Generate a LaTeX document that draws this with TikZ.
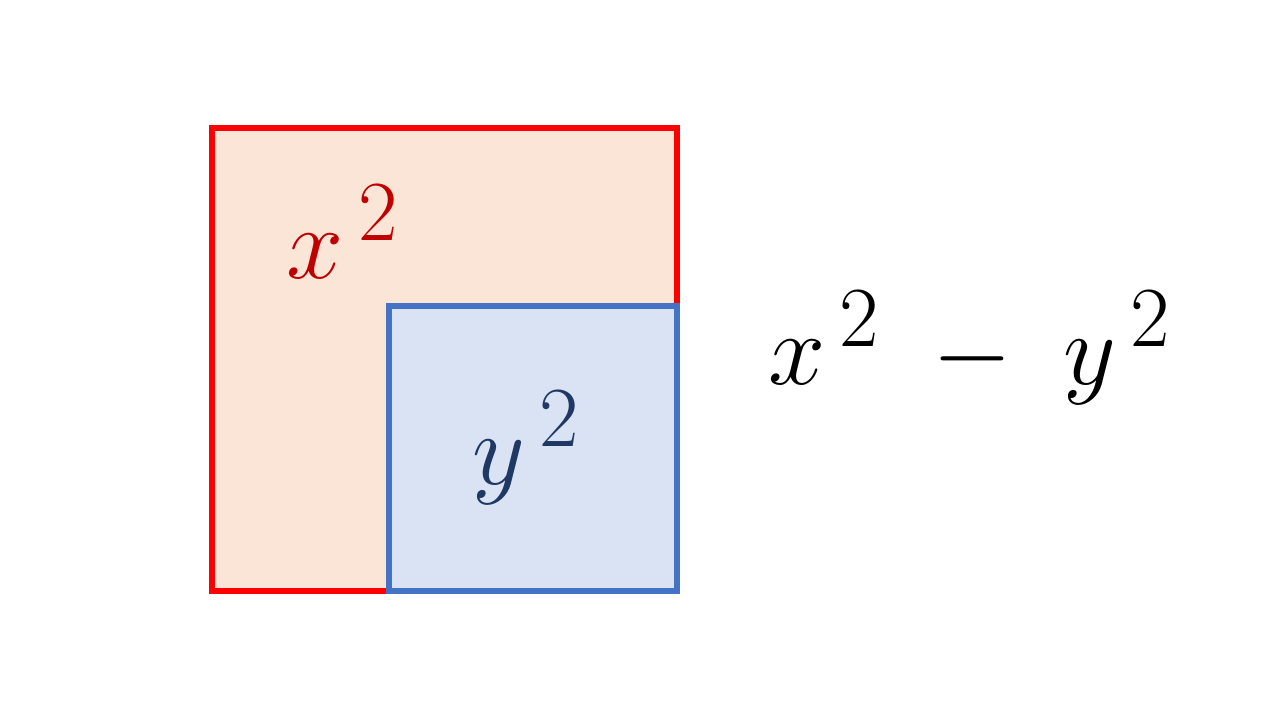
\documentclass[tikz,border=0pt]{standalone}
\usepackage{amsmath}
\definecolor{redl}{HTML}{FF0000}
\definecolor{peach}{HTML}{FBE5D6}
\definecolor{bluel}{HTML}{4472C4}
\definecolor{bluef}{HTML}{DAE3F3}
\definecolor{darkred}{HTML}{C00000}
\definecolor{navy}{HTML}{1F3864}
\tikzset{lbl/.style={font=\Huge, inner sep=0pt, scale=2.35}}
\begin{document}
\begin{tikzpicture}[x=0.02cm,y=-0.02cm]
\useasboundingbox[fill=white] (0,0) rectangle (1280,720);
\draw[redl, fill=peach, line width=5.5pt*0.567] (212,128) rectangle (677,591);
\draw[bluel, fill=bluef, line width=5.5pt*0.567] (389,306) rectangle (677,591);
\node[lbl, text=darkred] (x) at (343,232) {$x^{\,2}$};
\node[lbl, text=navy] (y) at (527,448) {$y^{\,2}$};
\node[lbl] (d) at (970,348) {$x^{\,2} \;-\; y^{\,2}$};
\end{tikzpicture}
\end{document}
